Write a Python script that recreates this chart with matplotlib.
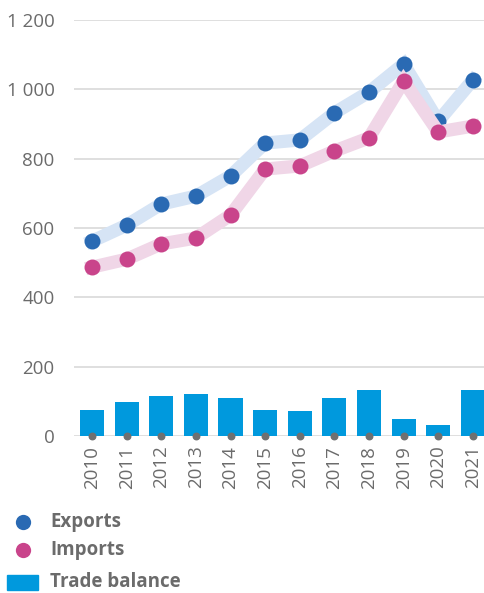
import matplotlib.pyplot as plt
from matplotlib.lines import Line2D
from matplotlib.patches import Rectangle

years = ["2010", "2011", "2012", "2013", "2014", "2015", "2016", "2017", "2018", "2019", "2020", "2021"]
exports = [562, 608, 669, 692, 750, 845, 854, 932, 992, 1073, 908, 1027]
imports = [487, 510, 554, 571, 637, 770, 779, 822, 860, 1024, 877, 894]
trade_balance = [75, 98, 115, 121, 110, 75, 72, 110, 133, 49, 32, 133]
y_ticks = [0, 200, 400, 600, 800, 1000, 1200]

grey = "#6b6b6b"
plt.rcParams["font.family"] = ["Open Sans", "DejaVu Sans"]

fig = plt.figure(figsize=(4.85, 5.93), dpi=100)
W, H = 485, 593
ax = fig.add_axes([74 / W, 1 - 436 / H, (W - 74) / W, (436 - 20) / H])

x = list(range(len(years)))
ax.bar(x, trade_balance, width=0.7, color="#0099dd", zorder=2)
ax.scatter(x, [0] * len(x), s=22, color="#707070", zorder=3, clip_on=False)

ax.plot(x, exports, color="#d6e4f5", lw=9.5, solid_joinstyle="miter", zorder=4)
ax.plot(x, exports, "o", color="#2a6ab3", ms=11.5, mew=0, zorder=5)
ax.plot(x, imports, color="#f0d6e7", lw=9.5, solid_joinstyle="miter", zorder=6)
ax.plot(x, imports, "o", color="#c9448b", ms=11.5, mew=0, zorder=7)

ax.set_xlim(-0.52, 11.35)
ax.set_ylim(0, 1200)
ax.set_yticks(y_ticks)
ax.set_yticklabels([f"{v:,}".replace(",", " ") for v in y_ticks])
ax.set_xticks(x)
ax.set_xticklabels(years, rotation=90)
ax.tick_params(axis="both", length=0, labelsize=13.5, labelcolor=grey)
ax.tick_params(axis="y", pad=14)
ax.tick_params(axis="x", pad=7)
ax.grid(axis="y", color="#d9d9d9", lw=1.2, zorder=0)
for s in ax.spines.values():
    s.set_visible(False)

# legend
def fy(py):
    return 1 - py / H

fig.add_artist(Line2D([23 / W], [fy(522)], marker="o", ms=11, color="#2a6ab3", mew=0, transform=fig.transFigure))
fig.add_artist(Line2D([23 / W], [fy(550)], marker="o", ms=11, color="#c9448b", mew=0, transform=fig.transFigure))
fig.add_artist(Rectangle((7 / W, fy(590)), 31 / W, 15 / H, color="#0099dd", transform=fig.transFigure))
for label, py in [("Exports", 522), ("Imports", 550), ("Trade balance", 582)]:
    fig.text(50 / W, fy(py), label, fontsize=13.5, fontweight="bold", color=grey, va="center", ha="left")

fig.savefig("out.png", dpi=100)
